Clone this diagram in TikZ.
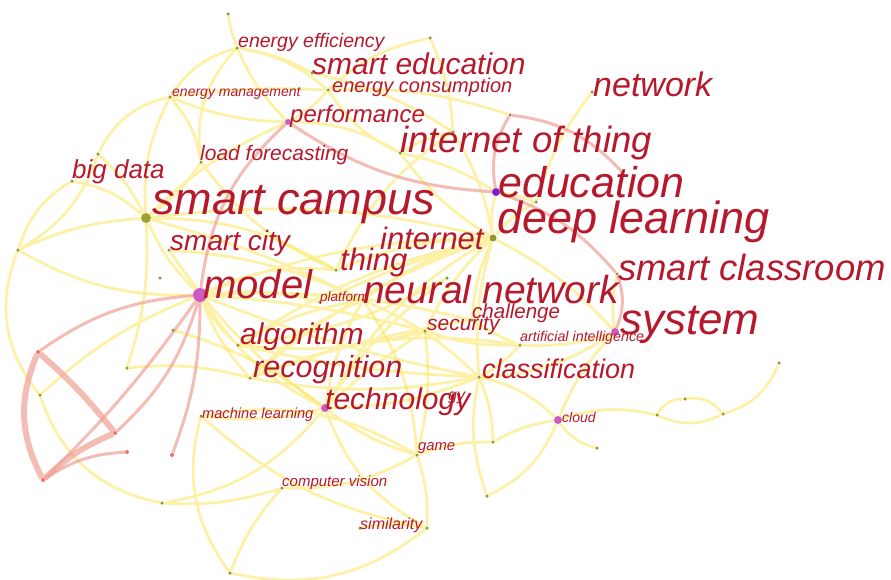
\documentclass[tikz,border=0pt]{standalone}
\usepackage{fontspec}
\setmainfont{Liberation Sans}
\usetikzlibrary{backgrounds}

\definecolor{kwred}{RGB}{182,24,44}
\definecolor{linkyel}{RGB}{250,228,80}
\definecolor{hotpink}{RGB}{238,160,150}
\definecolor{dotol}{RGB}{150,150,55}
\definecolor{hubmag}{RGB}{205,90,195}
\definecolor{hubpur}{RGB}{125,35,200}

\tikzset{
  kw/.style={font=\fontsize{#1}{#1}\selectfont\itshape, text=kwred, inner sep=0pt, anchor=west},
  dot/.style={circle, fill=dotol, inner sep=0pt, minimum size=3.5pt},
  hub/.style={circle, fill=hubmag, inner sep=0pt, minimum size=#1},
  hotdot/.style={circle, fill=hotpink!70!red, inner sep=0pt, minimum size=4pt},
  link/.style={draw=linkyel, line width=2.8pt, opacity=.5},
  hot/.style={draw=hotpink, line width=#1, opacity=.7},
  hot/.default=3pt
}

\begin{document}
\begin{tikzpicture}[x=1pt, y=-1pt]
	\useasboundingbox (0,0) rectangle (891,579);
	% keyword dots
	\node[dot] (t1) at (228,14) {};
	\node[dot] (eeff) at (237,48) {};
	\node[dot] (t2) at (430,38) {};
	\node[dot] (sedu) at (312,73) {};
	\node[dot] (econ) at (328,90) {};
	\node[dot] (emgt) at (170,97) {};
	\node[hub=6pt] (perf) at (288,122) {};
	\node[dot] (lfor) at (201,162) {};
	\node[dot] (w1) at (98,154) {};
	\node[dot] (bdat) at (72,181) {};
	\node[dot, minimum size=10pt, fill=dotol!90!yellow] (scam) at (146,218) {};
	\node[dot] (w2) at (18,250) {};
	\node[dot] (scity) at (169,250) {};
	\node[dot] (w3) at (160,278) {};
	\node[hub=14pt] (model) at (200,295) {};
	\node[dot] (thing) at (336,270) {};
	\node[dot] (plat) at (320,302) {};
	\node[dot] (nn) at (363,300) {};
	\node[dot] (n1) at (447,278) {};
	\node[dot, minimum size=7pt] (inet) at (493,238) {};
	\node[hub=8pt, fill=hubpur] (edu) at (496,192) {};
	\node[dot] (e1) at (536,202) {};
	\node[dot, fill=brown] (e2) at (510,115) {};
	\node[dot] (netw) at (592,92) {};
	\node[dot] (iot) at (400,153) {};
	\node[dot] (n2) at (453,132) {};
	\node[dot] (scls) at (617,274) {};
	\node[hub=8pt] (sys) at (615,332) {};
	\node[dot] (ai) at (520,345) {};
	\node[dot] (chal) at (472,320) {};
	\node[dot] (sec) at (425,331) {};
	\node[dot] (cls) at (479,377) {};
	\node[dot] (alg) at (238,345) {};
	\node[dot] (rec) at (250,378) {};
	\node[hub=8pt] (tech) at (325,408) {};
	\node[dot] (ml) at (201,416) {};
	\node[dot] (cv) at (282,488) {};
	\node[dot] (simi) at (360,528) {};
	\node[dot] (s2) at (427,528) {};
	\node[dot] (game) at (417,455) {};
	\node[hub=8pt] (cloud) at (558,420) {};
	\node[dot] (c1) at (493,442) {};
	\node[dot] (c2) at (487,496) {};
	\node[dot] (c3) at (597,448) {};
	\node[dot] (c4) at (657,415) {};
	\node[dot] (c5) at (685,399) {};
	\node[dot] (c6) at (723,414) {};
	\node[dot] (c7) at (779,363) {};
	\node[dot] (m1) at (173,330) {};
	\node[dot] (m2) at (127,368) {};
	\node[dot] (m3) at (40,395) {};
	\node[hotdot] (r1) at (38,352) {};
	\node[hotdot] (r2) at (115,433) {};
	\node[hotdot] (r3) at (127,452) {};
	\node[hotdot] (r4) at (172,455) {};
	\node[hotdot] (r5) at (43,480) {};
	\node[dot] (b1) at (162,503) {};
	\node[dot] (b2) at (230,573) {};
	\coordinate (eT) at (622,172);

	\begin{scope}[on background layer]
	% co-occurrence links
	\draw[link] (t1) to[bend right=5] (eeff) (eeff) to[bend right=20] (emgt)
		(eeff) to[bend left=15] (econ) (eeff) to[bend left=10] (sedu)
		(eeff) to[bend right=10] (perf) (eeff) to[bend right=25] (lfor)
		(emgt) to[bend left=5] (econ) (emgt) to[bend right=10] (perf)
		(emgt) to[bend right=25] (w1) (emgt) to[bend left=15] (lfor)
		(emgt) to[bend right=15] (scam) (econ) to[bend left=10] (perf)
		(econ) to[bend left=10] (e2) (econ) to[bend right=15] (iot)
		(t2) to[bend right=15] (econ) (t2) to[bend left=10] (n2)
		(sedu) to[bend left=10] (n2) (perf) to[bend left=15] (iot)
		(perf) to[bend right=10] (scam) (lfor) to[bend left=10] (scam)
		(lfor) to[bend right=15] (thing) (w1) to[bend left=20] (w2)
		(w1) to[bend left=10] (scam) (bdat) to[bend right=20] (w2)
		(bdat) to[bend left=15] (scam) (w2) to[bend left=10] (scam)
		(w2) to[bend right=30] (m3) (w2) to[bend right=15] (model);
	\draw[link] (m3) to[bend right=30] (b1) (m3) to[bend left=10] (model)
		(m2) to[bend left=10] (rec) (m2) to[bend right=10] (scam)
		(m1) to[bend left=10] (tech) (b1) to[bend right=20] (tech)
		(b1) to[bend right=10] (cv) (b2) to[bend left=25] (ml)
		(b2) to[bend right=25] (s2) (b2) to[bend left=10] (cv)
		(ml) to[bend right=10] (tech) (ml) to[bend left=20] (game)
		(ml) to[bend right=15] (s2) (cv) to[bend right=15] (game)
		(simi) to[bend left=10] (s2) (s2) to[bend right=10] (game)
		(s2) to[bend left=20] (tech) (game) to[bend left=10] (tech)
		(game) to[bend right=15] (nn) (game) to[bend left=10] (c1)
		(game) to[bend right=10] (sec) (c1) to[bend left=10] (cloud)
		(c1) to[bend right=10] (cls) (c2) to[bend right=20] (cloud)
		(c2) to[bend left=15] (cls) (c3) to[bend left=20] (cloud)
		(cloud) to[bend left=15] (c4) (cloud) to[bend right=15] (cls)
		(cloud) to[bend left=10] (sys) (c4) to[bend left=30] (c5)
		(c5) to[bend left=30] (c6) (c4) to[bend right=25] (c6)
		(c6) to[bend right=25] (c7);
	\draw[link] (model) to[bend left=10] (scam) (model) to[bend right=10] (alg)
		(model) to[bend left=5] (nn) (model) to[bend left=10] (inet)
		(model) to[bend left=15] (thing) (model) to[bend right=10] (rec)
		(model) to[bend right=15] (tech) (model) to[bend left=5] (sec)
		(model) to[bend left=8] (chal) (model) to[bend right=5] (cls)
		(model) to[bend left=10] (plat) (scam) to[bend left=10] (inet)
		(scam) to[bend left=15] (thing) (scam) to[bend left=5] (nn)
		(scity) to[bend left=10] (nn) (scity) to[bend right=10] (tech)
		(thing) to[bend left=10] (inet) (thing) to[bend left=15] (n2)
		(plat) to[bend left=5] (inet) (nn) to[bend left=10] (inet)
		(nn) to[bend right=10] (rec) (nn) to[bend right=10] (alg)
		(nn) to[bend left=10] (cls) (n1) to[bend left=10] (alg)
		(n1) to[bend right=10] (tech) (alg) to[bend left=10] (inet)
		(alg) to[bend right=10] (sec) (alg) to[bend right=5] (cls)
		(rec) to[bend left=10] (inet) (rec) to[bend left=5] (chal)
		(rec) to[bend right=10] (cls) (rec) to[bend left=15] (ai)
		(tech) to[bend left=15] (inet) (tech) to[bend left=10] (nn)
		(tech) to[bend left=5] (sec) (tech) to[bend right=10] (cls)
		(sec) to[bend left=10] (inet) (sec) to[bend right=10] (ai)
		(chal) to[bend left=10] (inet) (chal) to[bend right=5] (ai)
		(ai) to[bend right=10] (sys) (ai) to[bend left=10] (cls)
		(cls) to[bend right=15] (sys) (cls) to[bend left=10] (inet)
		(sys) to[bend right=10] (inet) (sys) to[bend left=10] (scls)
		(inet) to[bend left=10] (iot) (inet) to[bend left=10] (edu)
		(inet) to[bend left=10] (e1) (inet) to[bend right=10] (n2)
		(iot) to[bend left=10] (n2) (e1) to[bend left=10] (netw)
		(edu) to[bend left=5] (e1) (edu) to[bend right=10] (iot);
	% strong links
	\draw[hot] (perf) to[bend right=20] (model) (perf) to[bend right=15] (edu)
		(e2) to[bend right=20] (edu) (e2) to[bend left=20] (eT)
		(edu) to[bend left=15] (scls) (scls) to[bend left=20] (sys);
	\draw[hot=6pt] (r1) to[bend right=25] (r5) (r1) to[bend left=5] (r2)
		(r5) to[bend left=10] (r2);
	\draw[hot] (r1) to[bend left=15] (model) (r5) to[bend left=15] (r3)
		(r5) to[bend right=5] (model) (r2) to[bend right=15] (model)
		(model) to[bend left=10] (r4);
	\end{scope}

	% keyword labels
	\node[kw=19.5] (Leeff) at (238,42) {energy efficiency};
	\node[kw=30] (Lsedu) at (312,64) {smart education};
	\node[kw=14] (Lemgt) at (172,93) {energy management};
	\node[kw=20] (Lecon) at (332,87) {energy consumption};
	\node[kw=24] (Lperf) at (290,116) {performance};
	\node[kw=21] (Llfor) at (200,155) {load forecasting};
	\node[kw=26] (Lbdat) at (72,172) {big data};
	\node[kw=45] (Lscam) at (152,205) {smart campus};
	\node[kw=28] (Lscity) at (170,243) {smart city};
	\node[kw=31] (Linet) at (380,238) {internet};
	\node[kw=31] (Lthing) at (340,262) {thing};
	\node[kw=40] (Lmodel) at (203,284) {model};
	\node[kw=13.5] (Lplat) at (320,298) {platform};
	\node[kw=39] (Lnn) at (363,290) {neural network};
	\node[kw=36.5] (Liot) at (400,143) {internet of thing};
	\node[kw=43] (Ledu) at (498,182) {education};
	\node[kw=45] (Ldl) at (497,222) {deep learning};
	\node[kw=34] (Lnetw) at (593,84) {network};
	\node[kw=36.5] (Lscls) at (618,267) {smart classroom};
	\node[kw=44] (Lsys) at (620,325) {system};
	\node[kw=20.5] (Lchal) at (472,313) {challenge};
	\node[kw=21] (Lsec) at (427,325) {security};
	\node[kw=14.3] (Lai) at (520,338) {artificial intelligence};
	\node[kw=30] (Lalg) at (240,337) {algorithm};
	\node[kw=30.5] (Lrec) at (253,370) {recognition};
	\node[kw=27] (Lcls) at (482,369) {classification};
	\node[kw=30] (Ltech) at (325,402) {technology};
	\node[kw=16] (Lgy) at (448,398) {gy};
	\node[kw=14.6] (Lml) at (202,415) {machine learning};
	\node[kw=15] (Lcv) at (282,483) {computer vision};
	\node[kw=16] (Lsimi) at (360,525) {similarity};
	\node[kw=14.8] (Lgame) at (418,448) {game};
	\node[kw=14] (Lcloud) at (562,417) {cloud};
\end{tikzpicture}
\end{document}
